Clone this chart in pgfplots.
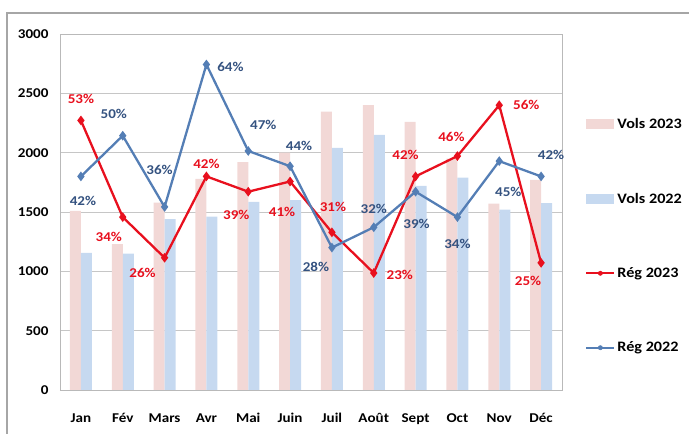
\documentclass[border=0pt]{standalone}
\usepackage{pgfplots}
\usepackage{pgfplotstable}
\pgfplotsset{compat=1.18}
\usepackage{fontspec}
\setmainfont{Carlito}[FakeStretch=1.12]
\definecolor{pinkbar}{RGB}{242,216,214}
\definecolor{bluebar}{RGB}{198,217,240}
\definecolor{redline}{RGB}{232,16,30}
\definecolor{blueline}{RGB}{84,126,181}
\definecolor{bluelab}{RGB}{52,82,128}
\pgfplotstableread{
m v23 v22 r23 r22 dxa dya dxb dyb
0 1510 1155 53 42 0 22 2 -25
1 1230 1150 34 50 -14 -20 -9 22
2 1580 1440 26 36 -22 -15 -5 37
3 1780 1460 42 64 0 12 24 -2
4 1920 1585 39 47 -12 -23 15 26
5 2000 1600 41 44 -8 -30 9 20
6 2345 2040 31 28 1 25 -16 -19
7 2400 2150 23 32 26 -2 0 18
8 2260 1720 42 39 -10 21 1 -32
9 1950 1790 46 34 -6 19 0 -27
10 1570 1520 56 45 27 0 9 -31
11 1770 1575 25 42 -13 -18 10 21
}\data
\begin{document}
\begin{tikzpicture}[font=\bfseries]
\path[use as bounding box] (0,0) rectangle (689bp,434bp);
\draw[gray!70, line width=1.2pt] (7bp,0) -- (7bp,421bp) -- (689bp,421bp);
\begin{axis}[
  at={(60bp,44bp)}, anchor=south west,
  scale only axis, width=502bp, height=356bp,
  xmin=-0.5, xmax=11.5, ymin=0, ymax=3000,
  xtick={0,...,11},
  xticklabels={Jan,Fév,Mars,Avr,Mai,Juin,Juil,Août,Sept,Oct,Nov,Déc},
  ytick={0,500,...,3000},
  ymajorgrids, grid style={gray!45, line width=0.6pt},
  axis line style={gray!55, line width=0.6pt},
  major tick length=0pt,
  tick label style={font=\bfseries\fontsize{13.5}{15}\selectfont, text=black},
  /pgf/number format/assume math mode=true,
  yticklabel style={/pgf/number format/1000 sep={}},
  xticklabel style={yshift=-20bp},
  yticklabel style={xshift=-8bp},
  legend style={draw=none, fill=none, at={(1.04,0.775)}, anchor=north west,
    font=\bfseries\fontsize{14.5}{16}\selectfont, row sep=59bp, cells={anchor=west}},
  legend cell align=left,
]
\addplot[ybar, bar width=11bp, bar shift=-5.5bp, fill=pinkbar, draw=none,
  legend image code/.code={\fill[pinkbar] (0bp,-5bp) rectangle (28bp,5bp);}]
  table[x=m, y=v23] {\data};
\addlegendentry{Vols 2023}
\addplot[ybar, bar width=11bp, bar shift=5.5bp, fill=bluebar, draw=none,
  legend image code/.code={\fill[bluebar] (0bp,-5bp) rectangle (28bp,5bp);}]
  table[x=m, y=v22] {\data};
\addlegendentry{Vols 2022}
\addlegendimage{legend image code/.code={\draw[redline, line width=2.2pt] (0bp,0) -- (28bp,0); \fill[redline] (14bp,0) circle (2.2bp);}}
\addlegendentry{Rég 2023}
\addlegendimage{legend image code/.code={\draw[blueline, line width=2.2pt] (0bp,0) -- (28bp,0); \fill[blueline] (14bp,0) circle (2.2bp);}}
\addlegendentry{Rég 2022}
\addplot[forget plot, redline, line width=2.3pt, mark=diamond*, mark size=3bp,
  point meta=explicit,
  visualization depends on={\thisrow{dxa} \as \dx},
  visualization depends on={\thisrow{dya} \as \dy},
  nodes near coords={\pgfmathprintnumber{\pgfplotspointmeta}\%},
  nodes near coords style={font=\bfseries\fontsize{13.5}{15}\selectfont, inner sep=0pt, text=redline, anchor=center, xshift=\dx bp, yshift=\dy bp}]
  table[x=m, y expr=\thisrow{r23}*3000/70, meta=r23] {\data};
\addplot[forget plot, blueline, line width=2.3pt, mark=diamond*, mark size=3bp,
  point meta=explicit,
  visualization depends on={\thisrow{dxb} \as \dx},
  visualization depends on={\thisrow{dyb} \as \dy},
  nodes near coords={\pgfmathprintnumber{\pgfplotspointmeta}\%},
  nodes near coords style={font=\bfseries\fontsize{13.5}{15}\selectfont, inner sep=0pt, text=bluelab, anchor=center, xshift=\dx bp, yshift=\dy bp}]
  table[x=m, y expr=\thisrow{r22}*3000/70, meta=r22] {\data};
\end{axis}
\end{tikzpicture}
\end{document}
